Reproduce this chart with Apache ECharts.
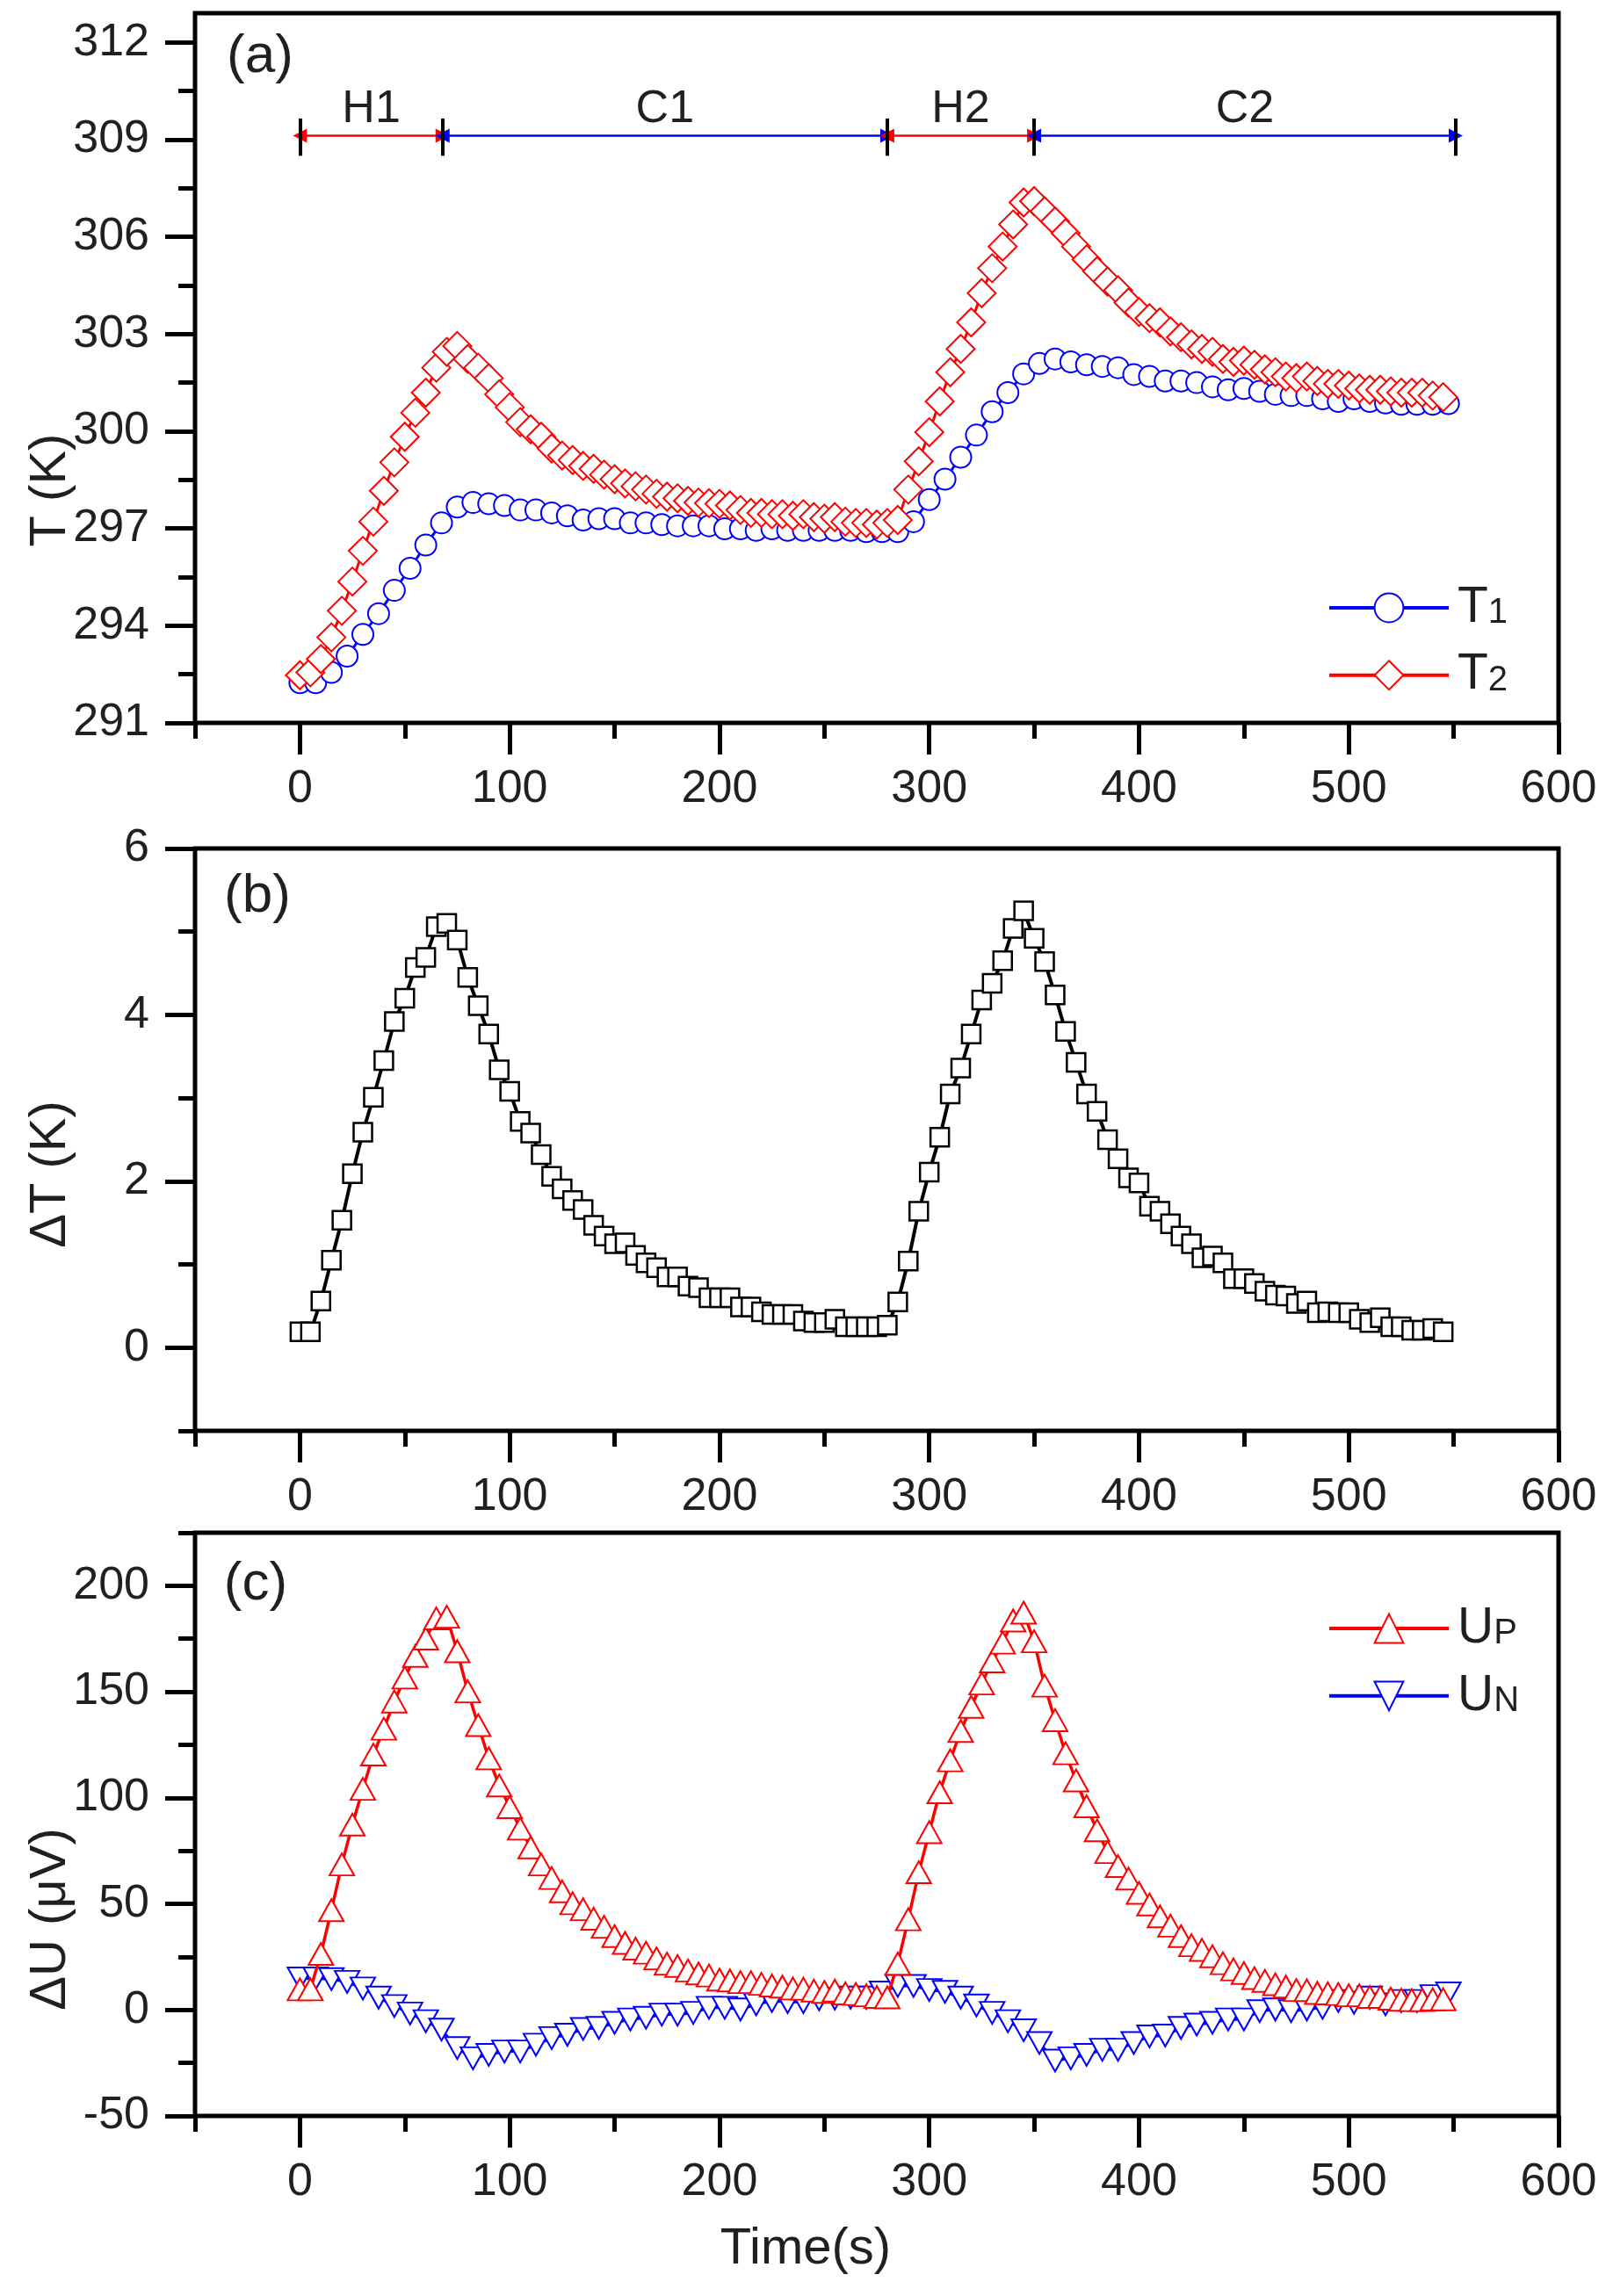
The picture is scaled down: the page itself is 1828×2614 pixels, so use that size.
<!DOCTYPE html>
<html><head><meta charset="utf-8">
<script src="https://cdn.jsdelivr.net/npm/echarts@6/dist/echarts.min.js"></script>
<style>html,body{margin:0;padding:0;background:#fff}#c{width:1828px;height:2614px}</style>
</head><body><div id="c"></div><script>
// ---------- data ----------
// sampling times (s) for T2, dT, UP (5 s step)
const timeA = [0,5,10,15,20,25,30,35,40,45,50,55,60,65,70,75,80,85,90,95,100,105,110,115,120,125,130,135,140,145,150,155,160,165,170,175,180,185,190,195,200,205,210,215,220,225,230,235,240,245,250,255,260,265,270,275,280,285,290,295,300,305,310,315,320,325,330,335,340,345,350,355,360,365,370,375,380,385,390,395,400,405,410,415,420,425,430,435,440,445,450,455,460,465,470,475,480,485,490,495,500,505,510,515,520,525,530,535,540,545];
// sampling times (s) for T1 and UN (7.5 s step)
const timeB = [0,7.5,15,22.5,30,37.5,45,52.5,60,67.5,75,82.5,90,97.5,105,112.5,120,127.5,135,142.5,150,157.5,165,172.5,180,187.5,195,202.5,210,217.5,225,232.5,240,247.5,255,262.5,270,277.5,285,292.5,300,307.5,315,322.5,330,337.5,345,352.5,360,367.5,375,382.5,390,397.5,405,412.5,420,427.5,435,442.5,450,457.5,465,472.5,480,487.5,495,502.5,510,517.5,525,532.5,540,547.5];
const T1 = [292.24,292.24,292.56,293.06,293.73,294.37,295.09,295.77,296.49,297.17,297.66,297.80,297.76,297.71,297.57,297.57,297.48,297.39,297.26,297.30,297.30,297.17,297.17,297.12,297.08,297.08,297.08,296.99,296.99,296.94,296.99,296.94,296.94,296.94,296.94,296.94,296.90,296.90,296.90,297.21,297.89,298.52,299.20,299.88,300.60,301.19,301.77,302.09,302.23,302.14,302.05,302.00,301.96,301.75,301.69,301.55,301.55,301.50,301.37,301.28,301.32,301.23,301.14,301.10,301.10,301.00,300.92,301.00,300.92,300.87,300.83,300.83,300.83,300.85];
const T2 = [292.47,292.56,292.97,293.64,294.46,295.36,296.31,297.21,298.16,299.04,299.83,300.57,301.19,301.96,302.45,302.63,302.23,301.96,301.64,301.14,300.74,300.28,300.06,299.83,299.47,299.25,299.11,298.93,298.84,298.66,298.52,298.39,298.30,298.20,298.07,297.98,297.93,297.85,297.80,297.78,297.76,297.71,297.57,297.48,297.48,297.44,297.44,297.39,297.44,297.35,297.30,297.35,297.21,297.17,297.17,297.12,297.17,297.26,298.20,299.07,299.97,300.92,301.82,302.54,303.36,304.26,305.03,305.70,306.38,307.06,307.10,306.79,306.47,306.11,305.70,305.30,304.94,304.62,304.35,303.97,303.68,303.49,303.36,303.08,302.90,302.68,302.54,302.45,302.23,302.14,302.18,302.05,301.91,301.82,301.69,301.64,301.69,301.55,301.46,301.46,301.41,301.32,301.28,301.28,301.23,301.19,301.19,301.19,301.10,301.05];
const dT = [0.19,0.19,0.56,1.05,1.53,2.09,2.59,3.01,3.45,3.92,4.20,4.57,4.69,5.06,5.10,4.90,4.45,4.11,3.77,3.34,3.08,2.72,2.58,2.32,2.06,1.91,1.77,1.66,1.47,1.34,1.25,1.26,1.11,1.02,0.96,0.85,0.85,0.74,0.72,0.60,0.60,0.60,0.49,0.49,0.43,0.40,0.40,0.40,0.32,0.30,0.30,0.34,0.25,0.25,0.25,0.25,0.27,0.55,1.04,1.64,2.11,2.53,3.05,3.36,3.77,4.18,4.38,4.65,5.04,5.25,4.92,4.64,4.24,3.80,3.43,3.05,2.84,2.50,2.27,2.04,1.98,1.70,1.64,1.49,1.34,1.25,1.08,1.10,1.02,0.83,0.83,0.77,0.68,0.63,0.62,0.53,0.56,0.42,0.43,0.42,0.42,0.34,0.30,0.36,0.25,0.25,0.21,0.21,0.23,0.19];
const UP = [9.7,9.7,26.4,47.0,68.6,87.4,104.2,120.4,132.6,145.4,156.7,166.9,175.1,184.6,185.4,169.1,150.2,134.3,118.6,105.8,95.6,85.5,76.6,68.6,62.2,55.9,50.3,47.5,43.0,39.2,34.8,31.6,28.9,27.0,24.3,21.8,20.7,18.6,17.2,16.2,14.3,13.9,13.1,13.1,12.3,11.5,11.0,10.1,10.0,9.1,8.5,9.1,7.8,7.5,6.9,6.1,5.9,21.8,42.7,64.9,83.8,102.6,117.7,131.5,142.9,153.9,164.3,173.2,183.6,187.3,173.8,152.9,136.6,121.0,108.2,96.0,84.7,74.4,67.8,61.9,55.2,49.7,44.1,39.7,34.8,30.5,28.3,25.3,22.0,19.1,17.4,15.0,13.7,12.1,11.0,9.4,9.3,8.0,7.8,7.5,6.9,6.9,6.1,6.1,5.3,4.8,4.6,4.6,5.0,5.0];
const UN = [14.8,14.8,14.5,13.2,10.1,5.8,1.8,-1.7,-5.3,-9.3,-18.0,-22.8,-21.2,-19.6,-19.6,-16.4,-13.3,-11.7,-9.0,-8.5,-6.1,-4.5,-3.7,-2.2,-2.2,-1.4,1.0,1.0,0.2,2.6,4.2,3.7,3.7,5.0,5.3,5.8,5.8,8.2,11.3,11.3,9.4,8.5,5.8,2.1,-1.4,-5.3,-9.6,-15.6,-23.9,-22.8,-21.2,-18.8,-18.8,-15.6,-12.5,-12.1,-8.5,-6.9,-6.1,-4.5,-4.5,-0.6,0.2,-0.6,0.2,1.0,4.2,3.4,5.8,2.6,4.2,4.2,6.5,7.8];
// phase annotation (panel a)
const phaseNames = ['H1','C1','H2','C2'];
const phaseBounds = [0,68,280,350,551];
const phaseLevel = 309.12;
const phaseBar = [308.5,309.65];
// ticks
const xMajor = [0,100,200,300,400,500,600];
const xMinor = [-50,50,150,250,350,450,550];
const yMajorA = [291,294,297,300,303,306,309,312];
const yMinorA = [292.5,295.5,298.5,301.5,304.5,307.5,310.5];
const yMajorB = [0,2,4,6];
const yMinorB = [-1,1,3,5];
const yMajorC = [-50,0,50,100,150,200];
const yMinorC = [-25,25,75,125,175,225];

// ---------- style ----------
const FONT = 'Arial, "Liberation Sans", Helvetica, sans-serif';
const TXT = '#231f20';
const RED = '#ff0000', BLUE = '#0000ff', BLACK = '#000000';
const GRID_LEFT = 222, GRID_W = 1552;
const grids = [
  {top:15, height:808},
  {top:966, height:663},
  {top:1745, height:664}
].map(g => ({left:GRID_LEFT, width:GRID_W, top:g.top, height:g.height, show:true, borderColor:'#000', borderWidth:5, backgroundColor:'transparent'}));

function xAxesFor(g) {
  return [
    {type:'value', gridIndex:g, min:-50, max:600, position:'bottom',
     axisLine:{show:false, onZero:false}, splitLine:{show:false},
     axisTick:{show:true, length:36, lineStyle:{color:'#000', width:5}, customValues:xMajor},
     axisLabel:{customValues:xMajor, fontSize:52, fontFamily:FONT, color:TXT, margin:50}},
    {type:'value', gridIndex:g, min:-50, max:600, position:'bottom',
     axisLine:{show:false, onZero:false}, splitLine:{show:false},
     axisTick:{show:true, length:18, lineStyle:{color:'#000', width:5}, customValues:xMinor},
     axisLabel:{show:false}}
  ];
}
function yAxesFor(g, min, max, major, minor) {
  return [
    {type:'value', gridIndex:g, min:min, max:max, position:'left',
     axisLine:{show:false, onZero:false}, splitLine:{show:false},
     axisTick:{show:true, length:34, lineStyle:{color:'#000', width:5}, customValues:major},
     axisLabel:{customValues:major, fontSize:52, fontFamily:FONT, color:TXT, margin:52}},
    {type:'value', gridIndex:g, min:min, max:max, position:'left',
     axisLine:{show:false, onZero:false}, splitLine:{show:false},
     axisTick:{show:true, length:19, lineStyle:{color:'#000', width:5}, customValues:minor},
     axisLabel:{show:false}}
  ];
}
const zip = (xs, ys) => xs.map((x, i) => [x, ys[i]]);

// phase markLine data
const phaseLines = [];
for (let k = 0; k < phaseNames.length; k++) {
  const col = k % 2 === 0 ? RED : BLUE;
  phaseLines.push([
    {coord:[phaseBounds[k], phaseLevel], lineStyle:{color:col, width:2.5, type:'solid'},
     label:{show:true, formatter:phaseNames[k], position:'insideMiddleTop', distance:4,
            fontSize:52, fontFamily:FONT, color:TXT}},
    {coord:[phaseBounds[k+1], phaseLevel]}
  ]);
}
phaseBounds.forEach(b => {
  phaseLines.push([
    {coord:[b, phaseBar[0]], symbol:'none', lineStyle:{color:'#000', width:4, type:'solid'}, label:{show:false}},
    {coord:[b, phaseBar[1]], symbol:'none'}
  ]);
});

const DOWN_TRI = 'path://M0,0 L10,0 L5,10 Z';

const series = [
  {type:'line', name:'T1', xAxisIndex:0, yAxisIndex:0, data:zip(timeB, T1),
   symbol:'circle', symbolSize:24, lineStyle:{color:BLUE, width:3},
   itemStyle:{color:'#fff', borderColor:BLUE, borderWidth:2}, emphasis:{disabled:true}, z:3,
   markLine:{silent:true, animation:false, symbol:['triangle','triangle'], symbolSize:16,
             label:{show:false}, emphasis:{disabled:true}, data:phaseLines}},
  {type:'line', name:'T2', xAxisIndex:0, yAxisIndex:0, data:zip(timeA, T2),
   symbol:'diamond', symbolSize:32, lineStyle:{color:RED, width:3},
   itemStyle:{color:'#fff', borderColor:RED, borderWidth:2}, emphasis:{disabled:true}, z:4},
  {type:'line', name:'dT', xAxisIndex:2, yAxisIndex:2, data:zip(timeA, dT),
   symbol:'rect', symbolSize:21, lineStyle:{color:BLACK, width:4},
   itemStyle:{color:'#fff', borderColor:BLACK, borderWidth:2.5}, emphasis:{disabled:true}},
  {type:'line', name:'UN', xAxisIndex:4, yAxisIndex:4, data:zip(timeB, UN),
   symbol:DOWN_TRI, symbolSize:[28,25], lineStyle:{color:BLUE, width:3},
   itemStyle:{color:'#fff', borderColor:BLUE, borderWidth:2}, emphasis:{disabled:true}, z:3},
  {type:'line', name:'UP', xAxisIndex:4, yAxisIndex:4, data:zip(timeA, UP),
   symbol:'triangle', symbolSize:[28,25], lineStyle:{color:RED, width:3.5},
   itemStyle:{color:'#fff', borderColor:RED, borderWidth:2}, emphasis:{disabled:true}, z:4}
];

const legendText = {
  color:TXT, fontFamily:FONT,
  rich:{
    m:{fontSize:57, fontFamily:FONT, color:TXT, lineHeight:41, padding:[0,0,0,5]},
    s:{fontSize:40, fontFamily:FONT, color:TXT, lineHeight:41, padding:[12,0,0,0]}
  }
};
const legendFmt = n => '{m|' + n.charAt(0) + '}{s|' + n.slice(1) + '}';
const legends = [
  {data:['T1','T2'], orient:'vertical', left:1511, top:663.5, padding:0, itemWidth:136, itemHeight:41, itemGap:19.7,
   selectedMode:false, formatter:legendFmt, textStyle:legendText, lineStyle:{width:4}},
  {data:['UP','UN'], orient:'vertical', left:1511, top:1825.5, padding:0, itemWidth:136, itemHeight:41, itemGap:19.8,
   selectedMode:false, formatter:legendFmt, textStyle:legendText, lineStyle:{width:4}}
];

function txt(text, x, y, size, rot) {
  return {type:'text', x:x, y:y, rotation:rot || 0, z:10,
    style:{text:text, fontSize:size, fontFamily:FONT, fill:TXT, align:'center', verticalAlign:'middle'}};
}
const graphics = [
  txt('(a)', 296, 65, 62),
  txt('(b)', 293, 1021, 62),
  txt('(c)', 291, 1804, 62),
  txt('T (K)', 58, 558, 58, Math.PI/2),
  txt('\u0394T (K)', 58, 1337, 58, Math.PI/2),
  txt('\u0394U (\u03bcV)', 58, 2185, 58, Math.PI/2),
  txt('Time(s)', 917, 2561, 58)
];

const option = {
  animation:false,
  backgroundColor:'#fff',
  grid:grids,
  xAxis:[...xAxesFor(0), ...xAxesFor(1), ...xAxesFor(2)],
  yAxis:[...yAxesFor(0, 291, 312.9, yMajorA, yMinorA),
         ...yAxesFor(1, -1, 6, yMajorB, yMinorB),
         ...yAxesFor(2, -50, 225, yMajorC, yMinorC)],
  legend:legends,
  series:series,
  graphic:graphics
};
const chart = echarts.init(document.getElementById('c'), null, {renderer:'canvas'});
chart.setOption(option);
</script></body></html>
